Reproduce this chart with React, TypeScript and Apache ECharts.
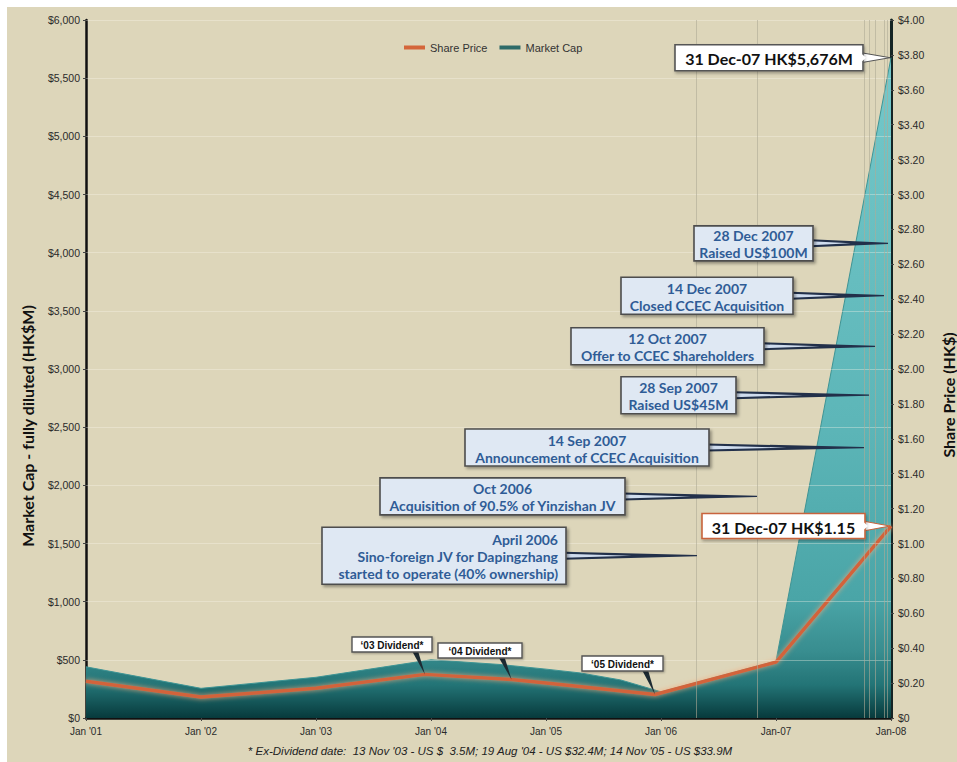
import React, { useEffect, useRef } from "react";
import * as echarts from "echarts";

// ---------------- data ----------------
const xTickLabels = ["Jan '01", "Jan '02", "Jan '03", "Jan '04", "Jan '05", "Jan '06", "Jan-07", "Jan-08"];
const xStartYear = 2001;

const marketCapDates = [2001.0, 2002.0, 2003.0, 2004.0, 2004.6, 2005.0, 2005.3, 2005.65, 2006.0, 2007.0, 2008.0];
const marketCapValues = [440, 255, 350, 500, 460, 420, 387, 327, 225, 490, 5676];

const sharePriceDates = [2001.0, 2002.0, 2003.0, 2003.948, 2004.7, 2005.0, 2005.948, 2007.0, 2008.0];
const sharePriceValues = [0.21, 0.12, 0.17, 0.25, 0.22, 0.2, 0.135, 0.32, 1.1];

const dividendLabels = ["\u201803 Dividend*", "\u201804 Dividend*", "\u201805 Dividend*"];
const dividendPointIndex = [3, 4, 6];

const eventDates = [2006.313, 2006.835, 2007.765, 2007.809, 2007.861, 2007.939, 2007.974];
const eventLevels = [0.93, 1.27, 1.55, 1.85, 2.13, 2.42, 2.72];
const eventTitles = ["April 2006", "Oct 2006", "14 Sep 2007", "28 Sep 2007", "12 Oct 2007", "14 Dec 2007", "28 Dec 2007"];
const eventDescriptions = [
  "Sino-foreign JV for Dapingzhang\nstarted to operate (40% ownership)",
  "Acquisition of 90.5% of Yinzishan JV",
  "Announcement of CCEC Acquisition",
  "Raised US$45M",
  "Offer to CCEC Shareholders",
  "Closed CCEC Acquisition",
  "Raised US$100M",
];

const capCalloutText = "31 Dec-07 HK$5,676M";
const priceCalloutText = "31 Dec-07 HK$1.15";
const leftAxisTitle = "Market Cap - fully diluted (HK$M)";
const rightAxisTitle = "Share Price (HK$)";
const footnoteText = "* Ex-Dividend date:  13 Nov '03 - US $  3.5M; 19 Aug '04 - US $32.4M; 14 Nov '05 - US $33.9M";

// ---------------- layout (page pixels) ----------------
const OX = 7;
const OY = 7;
const eventBoxLeft = [322, 380, 465, 621, 571, 621, 694];
const eventBoxRight = [566, 625, 709, 736, 764, 793, 813];
const eventBoxHeight = [57, 37, 37, 37, 37, 37, 35];
const dividendBoxLeft = [352, 438, 582];
const dividendBoxRight = [432, 522, 663];
const dividendBoxTop = [637, 643, 656];

const SANS = '"Liberation Sans", Arial, sans-serif';
const GILL = 'Lato, "Open Sans", sans-serif';

export default function App() {
  const ref = useRef<HTMLDivElement>(null);

  useEffect(() => {
    const el = ref.current!;
    const chart = echarts.init(el, null, { renderer: "svg" });

    const capData = marketCapDates.map((d, i) => [d, marketCapValues[i]]);
    const priceData = sharePriceDates.map((d, i) => [d, sharePriceValues[i]]);

    const gridValues: number[] = [];
    for (let v = 500; v <= 6000; v += 500) gridValues.push(v);

    const option: any = {
      animation: false,
      backgroundColor: "#ddd6ba",
      grid: { left: 86 - OX, right: 950 - (891 - OX), top: 20 - OY, bottom: 755 - (718 - OY), containLabel: false },
      legend: {
        left: 399 - OX,
        top: 37 - OY,
        itemWidth: 21,
        itemHeight: 4,
        itemGap: 12,
        textStyle: { fontFamily: SANS, fontSize: 11, color: "#333" },
        data: [
          { name: "Share Price", icon: "rect", itemStyle: { color: "#d4663a" } },
          { name: "Market Cap", icon: "rect", itemStyle: { color: "#2e6b68" } },
        ],
      },
      xAxis: {
        type: "value",
        min: 2001,
        max: 2008,
        interval: 1,
        axisLine: { show: true, lineStyle: { color: "#111", width: 2.5 } },
        axisTick: { show: true, length: 3, lineStyle: { color: "#444" } },
        splitLine: { show: false },
        axisLabel: {
          formatter: (v: number) => xTickLabels[Math.round(v - xStartYear)] ?? "",
          fontFamily: SANS,
          fontSize: 10,
          color: "#2a2a2a",
          margin: 8,
        },
      },
      yAxis: [
        {
          type: "value",
          position: "left",
          min: 0,
          max: 6000,
          interval: 500,
          axisLine: { show: true, lineStyle: { color: "#111", width: 2.5 } },
          axisTick: { show: true, length: 3, lineStyle: { color: "#444" } },
          splitLine: { show: false },
          axisLabel: {
            formatter: (v: number) => "$" + v.toLocaleString("en-US"),
            fontFamily: SANS,
            fontSize: 10.5,
            color: "#2a2a2a",
            margin: 6,
          },
        },
        {
          type: "value",
          position: "right",
          min: 0,
          max: 4,
          interval: 0.2,
          axisLine: { show: true, lineStyle: { color: "#142424", width: 3 } },
          axisTick: { show: true, length: 3, lineStyle: { color: "#444" } },
          splitLine: { show: false },
          axisLabel: {
            formatter: (v: number) => (v === 0 ? "$0" : "$" + v.toFixed(2)),
            fontFamily: SANS,
            fontSize: 10.5,
            color: "#2a2a2a",
            margin: 7,
          },
        },
      ],
      series: [
        {
          name: "Market Cap",
          type: "line",
          yAxisIndex: 0,
          data: capData,
          symbol: "none",
          z: 2,
          lineStyle: { color: "#3f9494", width: 1 },
          itemStyle: { color: "#2e6b68" },
          areaStyle: {
            opacity: 1,
            color: new echarts.graphic.LinearGradient(0, 0, 0, 1, [
              { offset: 0, color: "#74c8ca" },
              { offset: 0.55, color: "#5db6b8" },
              { offset: 0.82, color: "#4aa5a7" },
              { offset: 0.9, color: "#388d8f" },
              { offset: 0.95, color: "#237476" },
              { offset: 1, color: "#073a3c" },
            ]),
          },
          markLine: {
            silent: true,
            symbol: "none",
            label: { show: false },
            data: [
              ...gridValues.map((v) => ({ yAxis: v, lineStyle: { color: "rgba(250,247,235,0.35)", width: 1, type: "solid" } })),
              ...eventDates.map((d) => ({ xAxis: d, lineStyle: { color: "rgba(175,170,150,0.6)", width: 1, type: "solid" } })),
            ],
          },
        },
        {
          name: "Share Price",
          type: "line",
          yAxisIndex: 1,
          data: priceData,
          symbol: "none",
          z: 3,
          lineStyle: { color: "#d2633a", width: 3.5, shadowColor: "rgba(245,170,125,0.9)", shadowBlur: 5 },
          itemStyle: { color: "#d4663a" },
        },
      ],
    };

    chart.setOption(option);

    const P = (seriesIndex: number, x: number, y: number) => chart.convertToPixel({ seriesIndex }, [x, y]) as number[];
    const g: any[] = [];
    const txt = (x: number, y: number, text: string, s: any, z2 = 5, rotation = 0) => ({
      type: "text",
      x,
      y,
      rotation,
      z: 100,
      z2,
      silent: true,
      style: { text, align: "center", verticalAlign: "middle", textAlign: "center", textVerticalAlign: "middle", ...s },
    });

    // axis titles
    g.push(txt(27 - OX, 426 - OY, leftAxisTitle, { fontFamily: GILL, fontWeight: "bold", fontSize: 16, fill: "#111" }, 5, Math.PI / 2));
    g.push(txt(948 - OX, 395 - OY, rightAxisTitle, { fontFamily: GILL, fontWeight: "bold", fontSize: 16, fill: "#111" }, 5, Math.PI / 2));

    // footnote
    g.push(txt(490 - OX, 751 - OY, footnoteText, { fontFamily: SANS, fontStyle: "italic", fontSize: 11.5, fill: "#222" }));

    // event callouts
    eventDates.forEach((d, i) => {
      const [tx, ty] = P(1, d, eventLevels[i]);
      const left = eventBoxLeft[i] - OX;
      const right = eventBoxRight[i] - OX;
      const h = eventBoxHeight[i];
      const top = ty - h / 2;
      g.push({
        type: "polygon", z: 100, z2: 1, silent: true,
        shape: { points: [[right - 2, ty - 4], [tx, ty - 0.6], [tx, ty + 0.6], [right - 2, ty + 4]] },
        style: { fill: "#22304a" },
      });
      g.push({
        type: "polygon", z: 100, z2: 2, silent: true,
        shape: { points: [[right - 2, ty - 2], [right + (tx - right) * 0.5, ty], [right - 2, ty + 2]] },
        style: { fill: "#cfdcee" },
      });
      g.push({
        type: "rect", z: 100, z2: 3, silent: true,
        shape: { x: left, y: top, width: right - left, height: h },
        style: { fill: "#dfe8f3", stroke: "#4d4d4d", lineWidth: 1.6, shadowBlur: 3, shadowOffsetX: 2, shadowOffsetY: 2, shadowColor: "rgba(0,0,0,0.35)" },
      });
      const alignRight = i === 0;
      g.push(
        txt(alignRight ? right - 8 : (left + right) / 2, top + h / 2 + 1, eventTitles[i] + "\n" + eventDescriptions[i], {
          fontFamily: GILL, fontWeight: "bold", fontSize: 14, lineHeight: 17, fill: "#2f5c96",
          align: alignRight ? "right" : "center", textAlign: alignRight ? "right" : "center",
        }, 4)
      );
    });

    // big end-of-period callouts
    const bigCallout = (tx: number, ty: number, left: number, right: number, h: number, text: string, border: string, fs: number) => {
      g.push({
        type: "polygon", z: 100, z2: 1, silent: true,
        shape: { points: [[right - 2, ty - 5], [tx - 1, ty], [right - 2, ty + 5]] },
        style: { fill: "#ffffff", stroke: border, lineWidth: 1 },
      });
      g.push({
        type: "rect", z: 100, z2: 2, silent: true,
        shape: { x: left, y: ty - h / 2, width: right - left, height: h },
        style: { fill: "#ffffff", stroke: border, lineWidth: 1.6, shadowBlur: 3, shadowOffsetX: 1, shadowOffsetY: 2, shadowColor: "rgba(0,0,0,0.3)" },
      });
      g.push({
        type: "polygon", z: 100, z2: 3, silent: true,
        shape: { points: [[right - 1.5, ty - 4], [right + 3, ty], [right - 1.5, ty + 4]] },
        style: { fill: "#ffffff" },
      });
      g.push(txt((left + right) / 2, ty + 1, text, { fontFamily: GILL, fontWeight: "bold", fontSize: fs, fill: "#111" }, 4));
    };
    const lastCap = marketCapValues.length - 1;
    const [cx, cy] = P(0, marketCapDates[lastCap], marketCapValues[lastCap]);
    bigCallout(cx, cy, 675 - OX, 863 - OX, 26, capCalloutText, "#555555", 16);
    const lastPrice = sharePriceValues.length - 1;
    const [px, py] = P(1, sharePriceDates[lastPrice], sharePriceValues[lastPrice]);
    bigCallout(px, py, 702 - OX, 865 - OX, 25, priceCalloutText, "#c8643c", 16);

    // dividend callouts
    dividendPointIndex.forEach((pi, i) => {
      const [tx, ty] = P(1, sharePriceDates[pi], sharePriceValues[pi]);
      const left = dividendBoxLeft[i] - OX;
      const right = dividendBoxRight[i] - OX;
      const top = dividendBoxTop[i] - OY;
      const h = 15;
      const bx = tx - 10;
      g.push({
        type: "polygon", z: 100, z2: 1, silent: true,
        shape: { points: [[bx - 3, top + h - 1], [tx, ty], [bx + 3, top + h - 1]] },
        style: { fill: "#1d2b33" },
      });
      g.push({
        type: "rect", z: 100, z2: 2, silent: true,
        shape: { x: left, y: top, width: right - left, height: h },
        style: { fill: "#ffffff", stroke: "#555", lineWidth: 1.4, shadowBlur: 2, shadowOffsetX: 1, shadowOffsetY: 1, shadowColor: "rgba(0,0,0,0.3)" },
      });
      g.push(txt((left + right) / 2, top + h / 2 + 0.5, dividendLabels[i], { fontFamily: SANS, fontWeight: "bold", fontSize: 10, fill: "#111" }, 3));
    });

    chart.setOption({ graphic: { elements: g } });

    return () => chart.dispose();
  }, []);

  return <div ref={ref} style={{ position: "fixed", left: 7, top: 7, width: 950, height: 755 }} />;
}
